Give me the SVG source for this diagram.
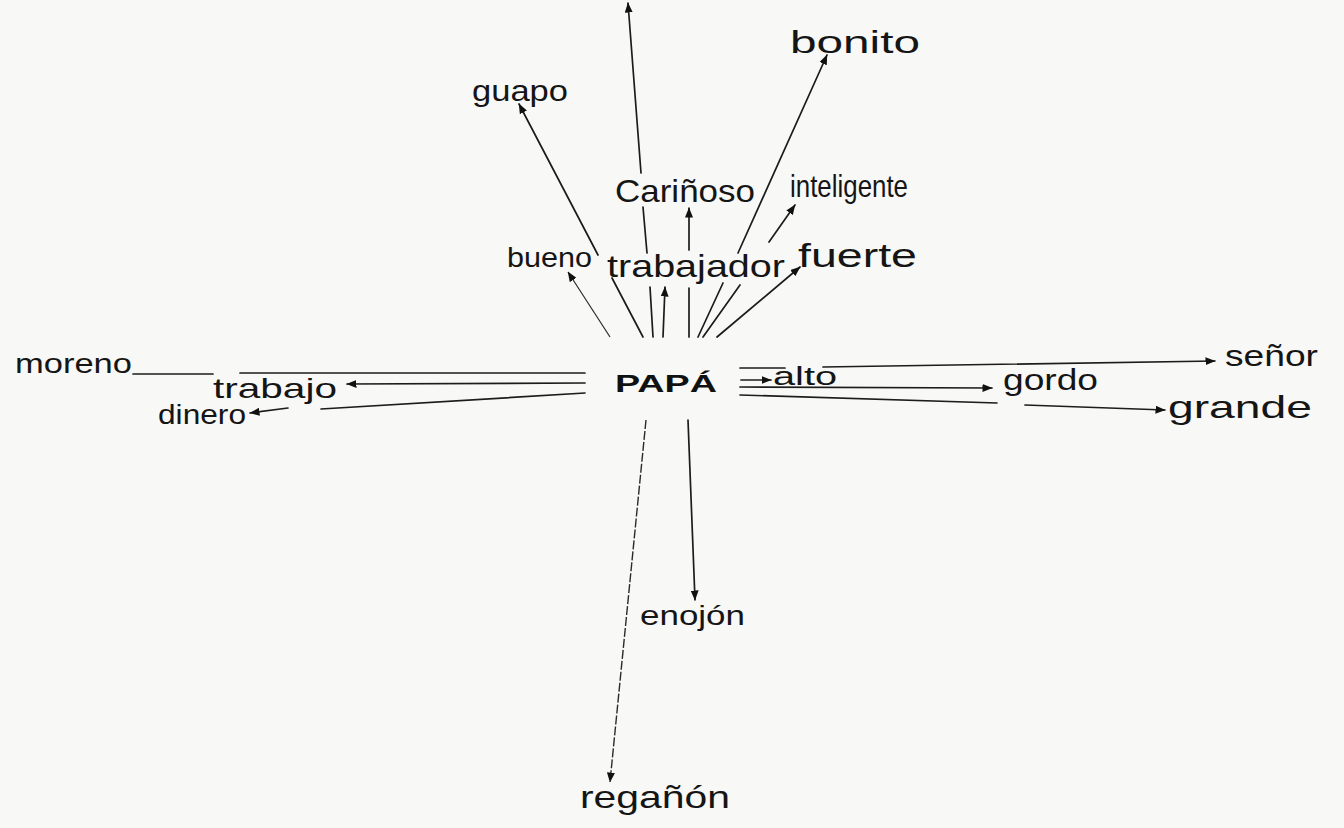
<svg xmlns="http://www.w3.org/2000/svg" width="1344" height="828" viewBox="0 0 1344 828">
<style>
.lbl{font-family:"Liberation Sans","DejaVu Sans",sans-serif;fill:#151515;font-weight:normal}
.center{font-family:"Liberation Sans","DejaVu Sans",sans-serif;fill:#111;font-weight:bold}
.ln{stroke:#1c1c1c;stroke-width:1.7;fill:none;stroke-linecap:round}
.thin{stroke:#2a2a2a;stroke-width:1.2;fill:none}
.dash{stroke:#2a2a2a;stroke-width:1.4;fill:none;stroke-dasharray:9 2}
</style>
<defs>
<marker id="ah" viewBox="0 0 10 8" refX="9.5" refY="4" markerWidth="10" markerHeight="8" markerUnits="userSpaceOnUse" orient="auto">
<path d="M0,0 L10,4 L0,8 z" fill="#111"/>
</marker>
</defs>
<rect x="0" y="0" width="1344" height="828" fill="#f8f8f6"/>

<g id="connectors">
<line class="ln" x1="653" y1="337" x2="650" y2="287"/>
<line class="ln" x1="647" y1="253" x2="643" y2="207"/>
<line class="ln" x1="641" y1="173" x2="628" y2="3" marker-end="url(#ah)"/>
<line class="ln" x1="643" y1="337" x2="612" y2="278"/>
<line class="ln" x1="598" y1="255" x2="519" y2="104" marker-end="url(#ah)"/>
<line class="thin" x1="610" y1="337" x2="568" y2="272" marker-end="url(#ah)"/>
<line class="ln" x1="663" y1="337" x2="665" y2="287" marker-end="url(#ah)"/>
<line class="ln" x1="689" y1="337" x2="689" y2="288"/>
<line class="ln" x1="689" y1="250" x2="689" y2="208" marker-end="url(#ah)"/>
<line class="ln" x1="698" y1="337" x2="723" y2="283"/>
<line class="ln" x1="738" y1="253" x2="827" y2="55" marker-end="url(#ah)"/>
<line class="ln" x1="703" y1="337" x2="740" y2="285"/>
<line class="ln" x1="769" y1="242" x2="795" y2="205" marker-end="url(#ah)"/>
<line class="ln" x1="717" y1="337" x2="800" y2="267" marker-end="url(#ah)"/>
<line class="ln" x1="585" y1="373" x2="240" y2="373"/>
<line class="ln" x1="213" y1="374" x2="133" y2="374"/>
<line class="ln" x1="585" y1="383" x2="347" y2="384" marker-end="url(#ah)"/>
<line class="ln" x1="585" y1="393" x2="321" y2="409"/>
<line class="ln" x1="288" y1="408" x2="250" y2="413" marker-end="url(#ah)"/>
<line class="ln" x1="740" y1="368" x2="785" y2="368"/>
<line class="ln" x1="823" y1="367" x2="1215" y2="361" marker-end="url(#ah)"/>
<line class="ln" x1="741" y1="380" x2="771" y2="380" marker-end="url(#ah)"/>
<line class="ln" x1="740" y1="387" x2="992" y2="388" marker-end="url(#ah)"/>
<line class="ln" x1="740" y1="395" x2="997" y2="403"/>
<line class="ln" x1="1025" y1="405" x2="1165" y2="410" marker-end="url(#ah)"/>
<line class="ln" x1="688" y1="420" x2="695" y2="600" marker-end="url(#ah)"/>
<line class="dash" x1="646" y1="420" x2="610" y2="782" marker-end="url(#ah)"/>
</g>

<g id="node-papa"><text class="center" x="615" y="392" font-size="24" textLength="102" lengthAdjust="spacingAndGlyphs">PAPÁ</text></g>
<g id="node-bonito"><text class="lbl" x="790" y="53" font-size="32" textLength="130" lengthAdjust="spacingAndGlyphs">bonito</text></g>
<g id="node-guapo"><text class="lbl" x="472" y="101" font-size="30" textLength="96" lengthAdjust="spacingAndGlyphs">guapo</text></g>
<g id="node-carinoso"><text class="lbl" x="615" y="202" font-size="32" textLength="140" lengthAdjust="spacingAndGlyphs">Cariñoso</text></g>
<g id="node-inteligente"><text class="lbl" x="790" y="197" font-size="32" textLength="118" lengthAdjust="spacingAndGlyphs">inteligente</text></g>
<g id="node-bueno"><text class="lbl" x="507" y="267" font-size="28" textLength="85" lengthAdjust="spacingAndGlyphs">bueno</text></g>
<g id="node-trabajador"><text class="lbl" x="607" y="277" font-size="32" textLength="178" lengthAdjust="spacingAndGlyphs">trabajador</text></g>
<g id="node-fuerte"><text class="lbl" x="798" y="267" font-size="34" textLength="119" lengthAdjust="spacingAndGlyphs">fuerte</text></g>
<g id="node-moreno"><text class="lbl" x="15" y="373" font-size="28" textLength="117" lengthAdjust="spacingAndGlyphs">moreno</text></g>
<g id="node-trabajo"><text class="lbl" x="213" y="398" font-size="28" textLength="124" lengthAdjust="spacingAndGlyphs">trabajo</text></g>
<g id="node-dinero"><text class="lbl" x="158" y="424" font-size="28" textLength="88" lengthAdjust="spacingAndGlyphs">dinero</text></g>
<g id="node-alto"><text class="lbl" x="773" y="385" font-size="26" textLength="64" lengthAdjust="spacingAndGlyphs">alto</text></g>
<g id="node-senor"><text class="lbl" x="1225" y="366" font-size="30" textLength="93" lengthAdjust="spacingAndGlyphs">señor</text></g>
<g id="node-gordo"><text class="lbl" x="1003" y="390" font-size="30" textLength="95" lengthAdjust="spacingAndGlyphs">gordo</text></g>
<g id="node-grande"><text class="lbl" x="1168" y="418" font-size="32" textLength="144" lengthAdjust="spacingAndGlyphs">grande</text></g>
<g id="node-enojon"><text class="lbl" x="640" y="625" font-size="28" textLength="105" lengthAdjust="spacingAndGlyphs">enojón</text></g>
<g id="node-reganon"><text class="lbl" x="580" y="808" font-size="32" textLength="150" lengthAdjust="spacingAndGlyphs">regañón</text></g>
</svg>
